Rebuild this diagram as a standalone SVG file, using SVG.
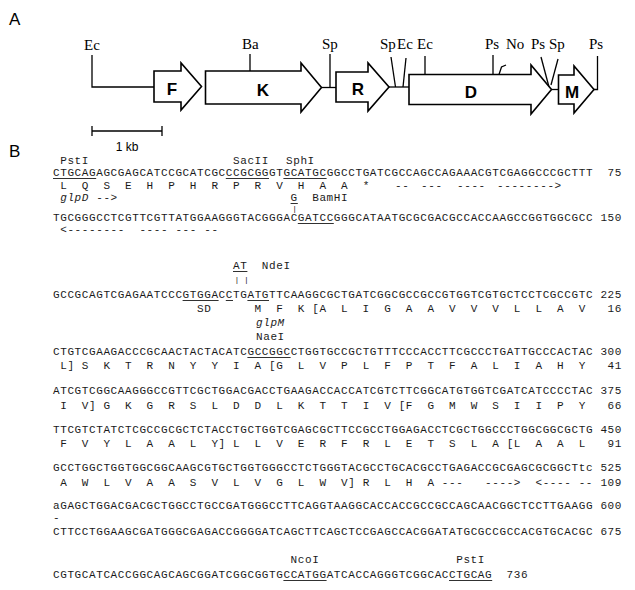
<svg xmlns="http://www.w3.org/2000/svg" width="635" height="590" viewBox="0 0 635 590">
<style>
.bg{fill:#fff}
.seq{font-family:"Liberation Mono",monospace;font-size:11px;letter-spacing:0.6px;fill:#1a1a1a;white-space:pre}
.it{font-style:italic}
.bar{font-family:"Liberation Mono",monospace;font-size:8px;fill:#1a1a1a;white-space:pre}
.num{font-family:"Liberation Mono",monospace;font-size:11px;letter-spacing:0.6px;fill:#1a1a1a;text-anchor:end}
.ul{stroke:#1a1a1a;stroke-width:0.9}
.lbl{font-family:"Liberation Serif",serif;font-size:15px;fill:#000}
.gene{font-family:"Liberation Sans",Arial,sans-serif;font-weight:bold;font-size:17px;text-anchor:middle;fill:#000}
.panel{font-family:"Liberation Sans",Arial,sans-serif;font-size:17px;fill:#000}
.kb{font-family:"Liberation Sans",Arial,sans-serif;font-size:12px;fill:#000;text-anchor:middle}
.arr{fill:#fff;stroke:#000;stroke-width:1.6;stroke-linejoin:miter}
.ln{fill:none;stroke:#000;stroke-width:1.3}
</style>
<rect class="bg" x="0" y="0" width="635" height="590"/>
<text class="panel" x="9" y="25">A</text>
<text class="panel" x="9" y="157">B</text>

<g id="connectors">
<polyline class="ln" points="92,55 92,87 154,87"/>
<line class="ln" x1="321.5" y1="87.5" x2="336" y2="87.5"/>
<line class="ln" x1="389" y1="87" x2="409" y2="87"/>
<line class="ln" x1="551.5" y1="89.5" x2="558.5" y2="89.5"/>
<polyline class="ln" points="594,89.5 597.5,89.5 597.5,56"/>
<line class="ln" x1="250" y1="54" x2="250" y2="71"/>
<line class="ln" x1="330" y1="54" x2="330" y2="87.5"/>
<line class="ln" x1="391" y1="57" x2="395.5" y2="87"/>
<line class="ln" x1="406" y1="58" x2="403" y2="87"/>
<line class="ln" x1="425" y1="56" x2="425" y2="74.5"/>
<line class="ln" x1="493" y1="55" x2="493" y2="74.5"/>
<polyline class="ln" points="499,74.5 501.5,67 506,65"/>
<line class="ln" x1="541" y1="57" x2="549" y2="87"/>
<line class="ln" x1="558" y1="59" x2="551" y2="85"/>
<line class="ln" x1="92" y1="126" x2="92" y2="136"/>
<line class="ln" x1="162" y1="126" x2="162" y2="136"/>
<line class="ln" x1="92" y1="131" x2="162" y2="131"/>
</g>

<g id="geneF"><polygon class="arr" points="154,71 181,71 181,63 201.5,86.5 181,110 181,102 154,102"/><text class="gene" x="172" y="95">F</text></g>
<g id="geneK"><polygon class="arr" points="205.5,71 301,71 301,63 321.5,87.5 301,112 301,104 205.5,104"/><text class="gene" x="263" y="96">K</text></g>
<g id="geneR"><polygon class="arr" points="336,72 368,72 368,63 389,87 368,111 368,102 336,102"/><text class="gene" x="358" y="95">R</text></g>
<g id="geneD"><polygon class="arr" points="409,74.5 531,74.5 531,65 551.5,89.5 531,114 531,104.5 409,104.5"/><text class="gene" x="471" y="98">D</text></g>
<g id="geneM"><polygon class="arr" points="558.5,75 574,75 574,66 594,89.5 574,113 574,104 558.5,104"/><text class="gene" x="572" y="98">M</text></g>

<g id="sites">
<text class="lbl" x="84" y="50">Ec</text>
<text class="lbl" x="242" y="49">Ba</text>
<text class="lbl" x="322" y="49">Sp</text>
<text class="lbl" x="380" y="49">Sp</text>
<text class="lbl" x="397" y="49">Ec</text>
<text class="lbl" x="417" y="49">Ec</text>
<text class="lbl" x="485" y="49">Ps</text>
<text class="lbl" x="506" y="49">No</text>
<text class="lbl" x="531" y="49">Ps</text>
<text class="lbl" x="549" y="49">Sp</text>
<text class="lbl" x="589" y="49">Ps</text>
<text class="kb" x="127" y="151">1 kb</text>
</g>

<g id="sequence">
<text class="seq" x="60.2" y="164">PstI</text>
<text class="seq" x="233" y="164">SacII</text>
<text class="seq" x="286" y="164">SphI</text>
<text class="seq" x="53" y="176">CTGCAGAGCGAGCATCCGCATCGCCCGCGGGTGCATGCGGCCTGATCGCCAGCCAGAAACGTCGAGGCCCGCTTT</text>
<text class="num" x="622" y="176">75</text>
<line class="ul" x1="53" y1="178.5" x2="96.2" y2="178.5"/>
<line class="ul" x1="225.8" y1="178.5" x2="269" y2="178.5"/>
<line class="ul" x1="283.4" y1="178.5" x2="326.6" y2="178.5"/>
<text class="seq" x="60.2" y="189" xml:space="preserve">L  Q  S  E  H  P  H  R  P  R  V  H  A  A  *</text>
<text class="seq" y="189"><tspan x="395">--</tspan><tspan x="421">---</tspan><tspan x="457">----</tspan><tspan x="497">--------&gt;</tspan></text>
<text class="seq" x="60.2" y="201" xml:space="preserve"><tspan class="it">glpD</tspan> --&gt;</text>
<text class="seq" x="290.6" y="201">G</text>
<line class="ul" x1="290.6" y1="203.5" x2="297.8" y2="203.5"/>
<text class="seq" x="312.2" y="201">BamHI</text>
<text class="bar" x="292.2" y="211">|</text>
<text class="seq" x="53" y="221">TGCGGGCCTCGTTCGTTATGGAAGGGTACGGGACGATCCGGGCATAATGCGCGACGCCACCAAGCCGGTGGCGCC</text>
<text class="num" x="622" y="221">150</text>
<line class="ul" x1="297.8" y1="223.5" x2="333.8" y2="223.5"/>
<text class="seq" x="60.2" y="233" xml:space="preserve">&lt;--------  ---- --- --</text>

<text class="seq" x="233" y="269">AT</text>
<line class="ul" x1="233" y1="271.5" x2="247.4" y2="271.5"/>
<text class="seq" x="261.8" y="269">NdeI</text>
<text class="bar" x="234.5" y="282">| |</text>
<text class="seq" x="53" y="298">GCCGCAGTCGAGAATCCCGTGGACCTGATGTTCAAGGCGCTGATCGGCGCCGCCGTGGTCGTGCTCCTCGCCGTC</text>
<text class="num" x="622" y="298">225</text>
<line class="ul" x1="182.6" y1="300.5" x2="218.6" y2="300.5"/>
<line class="ul" x1="225.8" y1="300.5" x2="233" y2="300.5"/>
<line class="ul" x1="247.4" y1="300.5" x2="269" y2="300.5"/>
<text class="seq" x="197" y="312">SD</text>
<text class="seq" x="254.6" y="312" xml:space="preserve">M  F  K [A  L  I  G  A  A  V  V  V  L  L  A  V</text>
<text class="num" x="622" y="312">16</text>
<text class="seq it" x="256" y="326">glpM</text>
<text class="seq" x="256" y="340">NaeI</text>
<text class="seq" x="53" y="355">CTGTCGAAGACCCGCAACTACTACATCGCCGGCCTGGTGCCGCTGTTTCCCACCTTCGCCCTGATTGCCCACTAC</text>
<text class="num" x="622" y="355">300</text>
<line class="ul" x1="247.4" y1="357.5" x2="290.6" y2="357.5"/>
<text class="seq" x="60.2" y="369" xml:space="preserve">L] S  K  T  R  N  Y  Y  I  A [G  L  V  P  L  F  P  T  F  A  L  I  A  H  Y</text>
<text class="num" x="622" y="369">41</text>

<text class="seq" x="53" y="394">ATCGTCGGCAAGGGCCGTTCGCTGGACGACCTGAAGACCACCATCGTCTTCGGCATGTGGTCGATCATCCCCTAC</text>
<text class="num" x="622" y="394">375</text>
<text class="seq" x="60.2" y="409" xml:space="preserve">I  V] G  K  G  R  S  L  D  D  L  K  T  T  I  V [F  G  M  W  S  I  I  P  Y</text>
<text class="num" x="622" y="409">66</text>

<text class="seq" x="53" y="433">TTCGTCTATCTCGCCGCGCTCTACCTGCTGGTCGAGCGCTTCCGCCTGGAGACCTCGCTGGCCCTGGCGGCGCTG</text>
<text class="num" x="622" y="433">450</text>
<text class="seq" x="60.2" y="447" xml:space="preserve">F  V  Y  L  A  A  L  Y] L  L  V  E  R  F  R  L  E  T  S  L  A [L  A  A  L</text>
<text class="num" x="622" y="447">91</text>

<text class="seq" x="53" y="471">GCCTGGCTGGTGGCGGCAAGCGTGCTGGTGGGCCTCTGGGTACGCCTGCACGCCTGAGACCGCGAGCGCGGCTtc</text>
<text class="num" x="622" y="471">525</text>
<text class="seq" x="60.2" y="486" xml:space="preserve">A  W  L  V  A  A  S  V  L  V  G  L  W  V] R  L  H  A ---   ----&gt;  &lt;---- --</text>
<text class="num" x="622" y="486">109</text>

<text class="seq" x="53" y="509">aGAGCTGGACGACGCTGGCCTGCCGATGGGCCTTCAGGTAAGGCACCACCGCCGCCAGCAACGGCTCCTTGAAGG</text>
<text class="num" x="622" y="509">600</text>
<text class="seq" x="53" y="521">-</text>
<text class="seq" x="53" y="535">CTTCCTGGAAGCGATGGGCGAGACCGGGGATCAGCTTCAGCTCCGAGCCACGGATATGCGCCGCCACGTGCACGC</text>
<text class="num" x="622" y="535">675</text>

<text class="seq" x="290.6" y="563">NcoI</text>
<text class="seq" x="456.2" y="563">PstI</text>
<text class="seq" x="53" y="578">CGTGCATCACCGGCAGCAGCGGATCGGCGGTGCCATGGATCACCAGGGTCGGCACCTGCAG</text>
<line class="ul" x1="283.4" y1="580.5" x2="326.6" y2="580.5"/>
<line class="ul" x1="449" y1="580.5" x2="492.2" y2="580.5"/>
<text class="seq" x="506.6" y="578">736</text>
</g>
</svg>
